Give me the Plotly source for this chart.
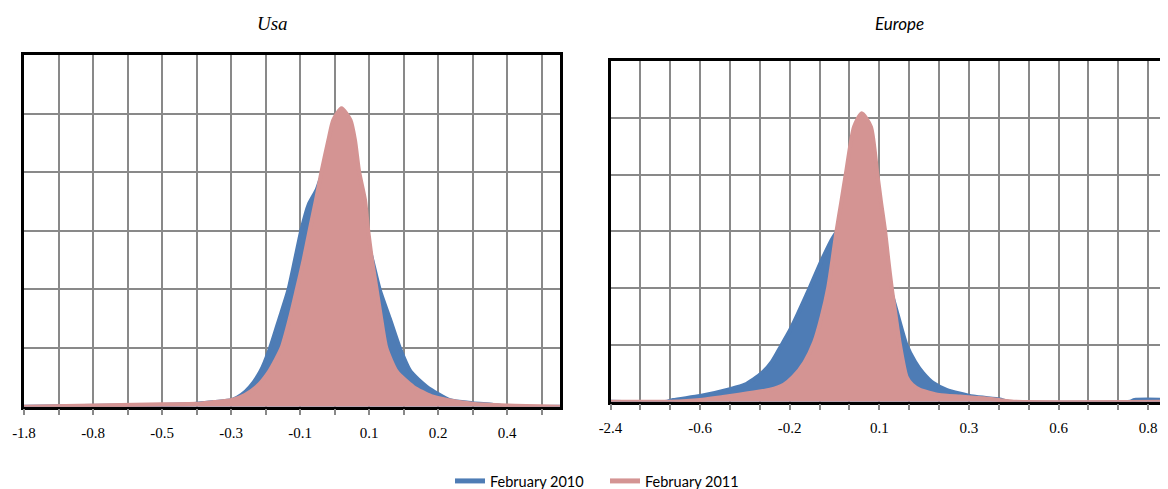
import plotly.graph_objects as go

# category-axis positions (one unit = one gridline step) and curve heights
usa_2010_x = [0, 4, 5, 5.5, 6.02, 6.3, 6.55, 6.85, 7.13, 7.4, 7.66, 7.85, 8.04, 8.25, 8.48, 8.65,
              8.9, 9.3, 9.7, 10.02, 10.31, 10.6, 10.89, 11.2, 11.67, 12.34, 13.0, 13.6, 14, 15.53]
usa_2010_y = [0, 0.03, 0.05, 0.08, 0.11, 0.2, 0.34, 0.6, 1.0, 1.5, 1.99, 2.5, 3.02, 3.45, 3.7, 3.95,
              4.0, 3.9, 3.3, 2.67, 1.99, 1.5, 1.0, 0.6, 0.34, 0.11, 0.06, 0.03, 0, 0]

usa_2011_x = [0, 4, 5, 5.5, 6.0, 6.4, 6.74, 7.1, 7.46, 7.7, 7.9, 8.1, 8.28, 8.45, 8.62, 8.82, 8.96,
              9.2, 9.46, 9.59, 9.71, 9.88, 9.97, 10.07, 10.22, 10.35, 10.5, 10.8, 11.28, 11.8, 12.3,
              13, 14, 15.53]
usa_2011_y = [0, 0.04, 0.05, 0.08, 0.11, 0.2, 0.34, 0.6, 1.0, 1.5, 1.99, 2.5, 3.02, 3.5, 4.01, 4.55, 4.89,
              5.09, 4.89, 4.55, 4.01, 3.53, 3.02, 2.56, 1.99, 1.5, 1.0, 0.6, 0.34, 0.18, 0.11,
              0.05, 0.02, 0]

eu_2010_x = [0, 1.9, 2.1, 3.0, 4.0, 4.5, 5.06, 5.4, 5.73, 6.0, 6.23, 6.68, 7.07, 7.46, 7.7, 8.0, 8.5,
             9.0, 9.44, 9.63, 9.91, 10.2, 10.47, 10.8, 11.25, 12.14, 13.03, 13.3, 17.4, 17.54, 18.93]
eu_2010_y = [0, 0, 0.03, 0.1, 0.22, 0.3, 0.5, 0.7, 1.0, 1.25, 1.5, 2.02, 2.49, 2.9, 3.05, 3.1, 3.0,
             2.6, 1.85, 1.5, 1.0, 0.7, 0.5, 0.33, 0.21, 0.09, 0.04, 0, 0, 0.03, 0.03]

eu_2011_x = [0, 2, 3, 4, 4.6, 5.34, 5.8, 6.12, 6.5, 6.82, 7.07, 7.29, 7.43, 7.57, 7.72, 7.88, 8.15,
             8.41, 8.72, 8.93, 9.06, 9.19, 9.3, 9.41, 9.55, 9.69, 9.91, 10.1, 10.36, 11.0, 11.7,
             12.5, 13.0, 13.5, 18.93]
eu_2011_y = [0, 0, 0.03, 0.1, 0.15, 0.21, 0.3, 0.44, 0.7, 1.05, 1.5, 2.02, 2.5, 3.02, 3.5, 4.02, 4.84,
             5.08, 4.84, 4.02, 3.5, 3.02, 2.5, 2.02, 1.5, 1.0, 0.44, 0.3, 0.21, 0.12, 0.09,
             0.06, 0.03, 0, 0]

usa_ticks = ["-1.8", "-0.8", "-0.5", "-0.3", "-0.1", "0.1", "0.2", "0.4"]
eu_ticks = ["-2.4", "-0.6", "-0.2", "0.1", "0.3", "0.6", "0.8"]

BLUE = "#4E7CB5"
PINK = "#D49493"
GRID = "#898989"
W, H = 1168, 489
OFF = 8  # the page body has a default 8px margin, so the figure sits 8px right/down


def px_x(v):
    return (v - OFF) / W


def px_y(v):
    return 1 - (v - OFF) / H


def tick_labels(labels, step, n):
    text = []
    for i in range(n):
        text.append(labels[i // step] if i % step == 0 else "")
    return list(range(n)), text


fig = go.Figure()

panels = [
    ("x", "y", usa_2010_x, usa_2010_y, usa_2011_x, usa_2011_y),
    ("x2", "y2", eu_2010_x, eu_2010_y, eu_2011_x, eu_2011_y),
]
for xa, ya, bx, by, px, py in panels:
    fig.add_trace(go.Scatter(x=bx, y=by, xaxis=xa, yaxis=ya, mode="lines", fill="tozeroy",
                             fillcolor=BLUE, line=dict(color=BLUE, width=4, shape="spline", smoothing=0.6),
                             showlegend=False))
    fig.add_trace(go.Scatter(x=px, y=py, xaxis=xa, yaxis=ya, mode="lines", fill="tozeroy",
                             fillcolor=PINK, line=dict(color=PINK, width=4, shape="spline", smoothing=0.6),
                             showlegend=False))

# legend entries as plain lines
fig.add_trace(go.Scatter(x=[None], y=[None], mode="lines", name="February 2010",
                         line=dict(color=BLUE, width=5)))
fig.add_trace(go.Scatter(x=[None], y=[None], mode="lines", name="February 2011",
                         line=dict(color=PINK, width=5)))

usa_tv, usa_tt = tick_labels(usa_ticks, 2, 16)
eu_tv, eu_tt = tick_labels(eu_ticks, 3, 19)

xcommon = dict(showline=True, linecolor="black", linewidth=2.5, showgrid=True, gridcolor=GRID,
               gridwidth=2, zeroline=False, ticks="outside", ticklen=6, tickwidth=2, tickcolor=GRID,
               tickfont=dict(family="Liberation Serif", size=15, color="black"), ticklabelstandoff=5,
               automargin=False)
ycommon = dict(range=[0, 6], dtick=1, tick0=0, showticklabels=False, showgrid=True, gridcolor=GRID,
               gridwidth=2, zeroline=False, showline=True, linecolor="black", linewidth=2.5,
               ticks="", automargin=False)

fig.update_layout(
    template="none",
    width=W, height=H, margin=dict(l=0, r=0, t=0, b=0, pad=0), autosize=False,
    plot_bgcolor="white", paper_bgcolor="white",
    xaxis=dict(xcommon, domain=[px_x(24), px_x(560)], range=[0, 15.53], tickmode="array",
               tickvals=usa_tv, ticktext=usa_tt, mirror=True, anchor="y"),
    yaxis=dict(ycommon, domain=[px_y(406.7), px_y(55)], mirror=True, anchor="x"),
    xaxis2=dict(xcommon, domain=[px_x(610.5), 1.0], range=[0, 18.93], tickmode="array",
                tickvals=eu_tv, ticktext=eu_tt, mirror=True, anchor="y2"),
    yaxis2=dict(ycommon, domain=[px_y(401.7), px_y(61)], mirror=False, anchor="x2"),
    legend=dict(orientation="h", x=px_x(605), y=0, xanchor="center", yanchor="bottom",
                bgcolor="rgba(0,0,0,0)", borderwidth=0, entrywidth=110,
                font=dict(family="Lato", size=14.5, color="black"), itemwidth=30),
    annotations=[
        dict(text="<i>Usa</i>", x=px_x(272), y=px_y(24), xref="paper", yref="paper", showarrow=False,
             xanchor="center", yanchor="middle",
             font=dict(family="Liberation Serif", size=19, color="black")),
        dict(text="<i>Europe</i>", x=px_x(899), y=px_y(24), xref="paper", yref="paper", showarrow=False,
             xanchor="center", yanchor="middle",
             font=dict(family="Lato", size=17, color="black")),
    ],
)

fig.write_html("out.html")
